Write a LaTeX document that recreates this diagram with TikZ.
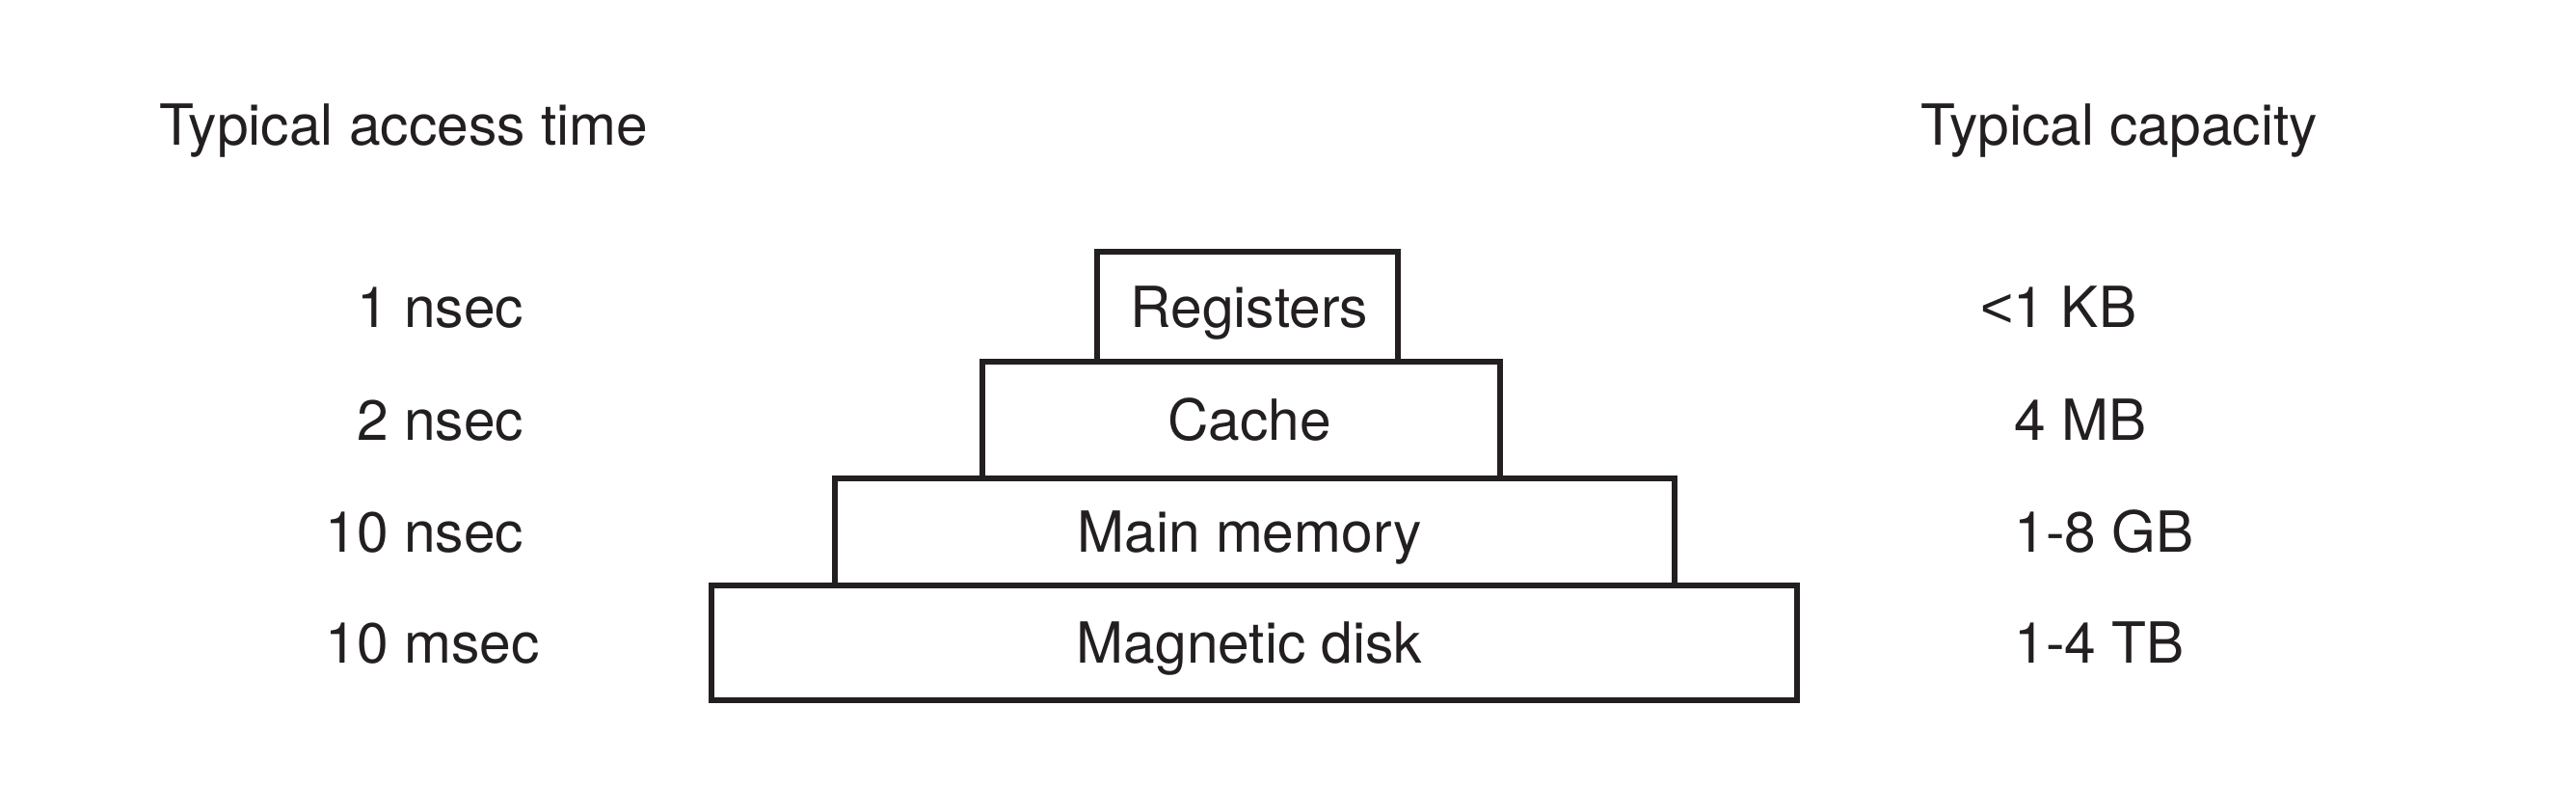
\documentclass[tikz,border=0pt]{standalone}
\usepackage{fontspec}
\setmainfont{TeX Gyre Heros}
\newfontfamily\lsans{Liberation Sans}
\definecolor{encre}{RGB}{35,31,32}

\begin{document}
\begin{tikzpicture}[x=1cm,y=1cm,
  every node/.style={font=\fontsize{16.7}{19}\selectfont,text=encre,inner sep=0pt},
  niveau/.style={draw=encre,line width=1.7pt},
  etiq/.style={anchor=west,text height=0.42cm,text depth=0pt},
  nom/.style={text height=0.42cm,text depth=0pt}]
\useasboundingbox (0,0) rectangle (26.72,-8.16);
% la pyramide
\node[niveau,minimum width=3.12cm,minimum height=1.14cm] (reg) at (12.94,-3.18) {};
\node[niveau,minimum width=5.37cm,minimum height=1.21cm] (cache) at (12.875,-4.355) {};
\node[niveau,minimum width=8.71cm,minimum height=1.11cm] (mem) at (13.015,-5.515) {};
\node[niveau,minimum width=11.26cm,minimum height=1.19cm] (disk) at (13.01,-6.665) {};
\node[nom] (nreg) at (12.96,0 |- reg.center) {Registers};
\node[nom] (ncache) at (12.96,0 |- cache.center) {Cache};
\node[nom] (nmem) at (12.96,0 |- mem.center) {Main memory};
\node[nom] (ndisk) at (12.96,0 |- disk.center) {Magnetic disk};
% titres
\node[anchor=base] (ttemps) at (4.19,-1.50) {Typical access time};
\node[anchor=base] (tcapa) at (21.98,-1.50) {Typical capacity};
% temps d'acces
\node[etiq] (t1) at (3.37,0 |- reg.center) {\phantom{1}1 nsec};
\node[etiq] (t2) at (3.37,0 |- cache.center) {\phantom{1}2 nsec};
\node[etiq] (t3) at (3.37,0 |- mem.center) {10 nsec};
\node[etiq] (t4) at (3.37,0 |- disk.center) {10 msec};
% capacites
\node[etiq] (c1) at (20.54,0 |- reg.center) {{\lsans <}1 KB};
\node[etiq] (c2) at (20.89,0 |- cache.center) {4 MB};
\node[etiq] (c3) at (20.89,0 |- mem.center) {1-8 GB};
\node[etiq] (c4) at (20.89,0 |- disk.center) {1-4 TB};
\end{tikzpicture}
\end{document}
